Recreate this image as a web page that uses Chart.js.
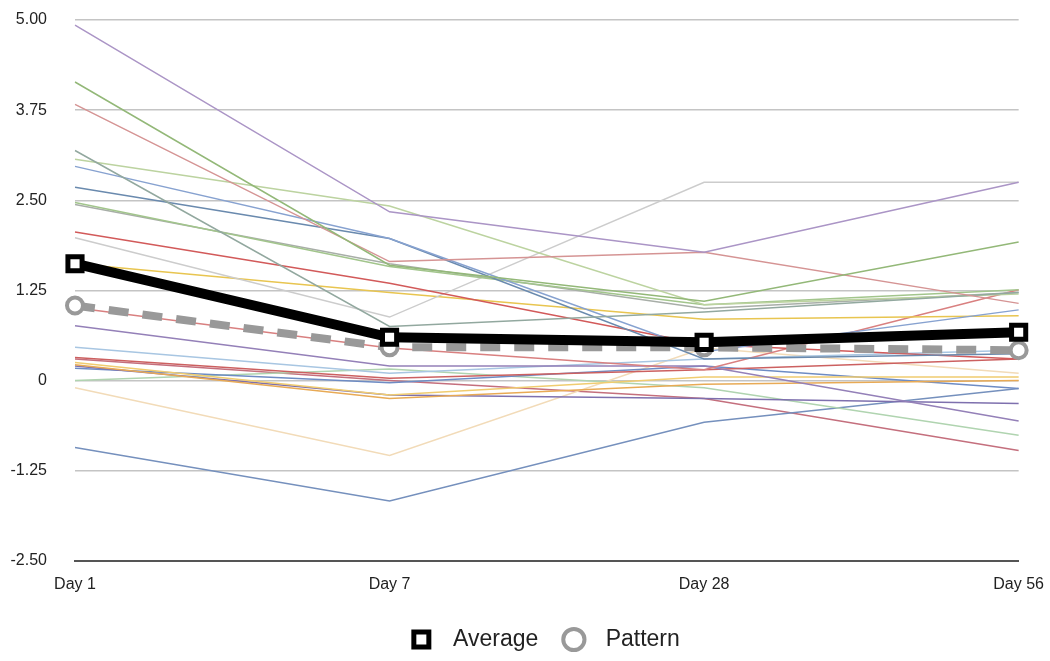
<!DOCTYPE html>
<html>
<head>
<meta charset="utf-8">
<script src="https://cdn.jsdelivr.net/npm/chart.js@4"></script>
<style>
  html, body { margin: 0; padding: 0; background: #fff; }
  #wrap { width: 1050px; height: 661px; }
</style>
</head>
<body>
<div id="wrap"><canvas id="mylinechart"></canvas></div>
<script>
// x categories and y ticks
let days = ['Day 1', 'Day 7', 'Day 28', 'Day 56']
let yTicks = [-2.5, -1.25, 0, 1.25, 2.5, 3.75, 5]

// summary series
let average = [1.62, 0.60, 0.53, 0.67]
let pattern = [1.04, 0.46, 0.46, 0.42]

// individual subjects (Day 1, Day 7, Day 28, Day 56)
let s01 = [4.93, 2.34, 1.78, 2.75]
let s02 = [4.14, 1.60, 1.10, 1.92]
let s03 = [3.83, 1.65, 1.78, 1.07]
let s04 = [3.19, 0.75, 0.95, 1.22]
let s05 = [3.07, 2.42, 1.05, 1.20]
let s06 = [2.97, 1.97, 0.40, 0.98]
let s07 = [2.68, 1.97, 0.30, 0.37]
let s08 = [2.47, 1.58, 1.05, 1.26]
let s09 = [2.44, 1.62, 1.00, 1.22]
let s10 = [2.06, 1.35, 0.50, 0.30]
let s11 = [1.98, 0.88, 2.75, 2.75]
let s12 = [1.62, 1.22, 0.85, 0.90]
let s13 = [1.01, 0.45, 0.15, 1.26]
let s14 = [0.76, 0.20, 0.20, -0.56]
let s15 = [0.46, 0.10, 0.30, 0.42]
let s16 = [0.32, 0.03, 0.15, 0.30]
let s17 = [0.25, -0.20, 0.05, 0.05]
let s18 = [0.22, -0.25, -0.05, 0.00]
let s19 = [0.20, -0.20, -0.25, -0.32]
let s20 = [0.17, -0.03, 0.20, -0.11]
let s21 = [0.00, 0.16, -0.10, -0.76]
let s22 = [-0.10, -1.04, 0.45, 0.10]
let s23 = [-0.93, -1.67, -0.58, -0.11]
let s24 = [0.30, 0.00, -0.25, -0.97]

let subjects = [s01, s02, s03, s04, s05, s06, s07, s08, s09, s10, s11, s12,
                s13, s14, s15, s16, s17, s18, s19, s20, s21, s22, s23, s24]
let subjectColors = ['#ab95c6', '#93b878', '#d59494', '#92a89f', '#bcd3a0', '#87a2d0',
                     '#6a8aae', '#a2c58c', '#a8aea8', '#d25a5a', '#cccccc', '#e8c550',
                     '#d98080', '#9480b8', '#a8c6e2', '#cc6060', '#f0cc70', '#e8aa55',
                     '#7e70ae', '#6e8cc4', '#b0d4b0', '#f2dbb8', '#7590bd', '#c46f7d']

function drawLineChart() {
    const canvasforlinechart = document.getElementById('mylinechart')

    let datasets = [{
        label: 'Average',
        data: average,
        borderColor: '#000',
        borderWidth: 10,
        pointStyle: 'rect',
        pointRadius: 10,
        pointBorderWidth: 5,
        pointBackgroundColor: '#fff',
        pointBorderColor: '#000'
    }, {
        label: 'Pattern',
        data: pattern,
        borderColor: '#999',
        borderWidth: 8,
        borderDash: [20, 14],
        pointStyle: 'circle',
        pointRadius: 8,
        pointBorderWidth: 4,
        pointBackgroundColor: '#fff',
        pointBorderColor: '#999'
    }]

    subjects.forEach(function (s, i) {
        datasets.push({
            label: 'S' + (i + 1),
            data: s,
            borderColor: subjectColors[i],
            borderWidth: 1.5,
            pointRadius: 0
        })
    })

    new Chart(canvasforlinechart, {
        type: 'line',
        data: {
            labels: days,
            datasets: datasets
        },
        options: {
            responsive: true,
            maintainAspectRatio: false,
            animation: false,
            layout: { padding: { top: 20, right: 4, left: 2, bottom: 0 } },
            elements: { line: { tension: 0 } },
            plugins: {
                tooltip: { enabled: false },
                legend: {
                    position: 'bottom',
                    fullSize: false,
                    labels: {
                        // only the two summary lines get a legend entry
                        generateLabels: function (chart) {
                            let items = Chart.defaults.plugins.legend.labels.generateLabels(chart)
                            return items.filter(function (item) { return item.datasetIndex < 2 })
                                .map(function (item) { item.text = '  ' + item.text; return item })
                        },
                        usePointStyle: true,
                        boxWidth: 15,
                        boxHeight: 15,
                        padding: 28,
                        color: '#222',
                        font: { family: 'Liberation Sans', size: 23 }
                    }
                }
            },
            scales: {
                x: {
                    offset: false,
                    grid: { display: false },
                    border: { color: '#555', width: 2 },
                    ticks: {
                        color: '#222',
                        padding: 6,
                        maxRotation: 0,
                        font: { family: 'Liberation Sans', size: 16 }
                    }
                },
                y: {
                    min: -2.5,
                    max: 5,
                    afterBuildTicks: function (axis) {
                        axis.ticks = yTicks.map(function (v) { return { value: v } })
                    },
                    afterFit: function (axis) {
                        axis.width = 73
                        axis.paddingTop = 9
                        axis.paddingBottom = 9
                    },
                    grid: { color: '#c4c4c4', lineWidth: 1.5, drawTicks: false },
                    border: { display: false },
                    ticks: {
                        color: '#222',
                        padding: 28,
                        font: { family: 'Liberation Sans', size: 16 },
                        callback: function (v) { return v == 0 ? '0' : v.toFixed(2) }
                    }
                }
            }
        }
    })
}

drawLineChart()
</script>
</body>
</html>
